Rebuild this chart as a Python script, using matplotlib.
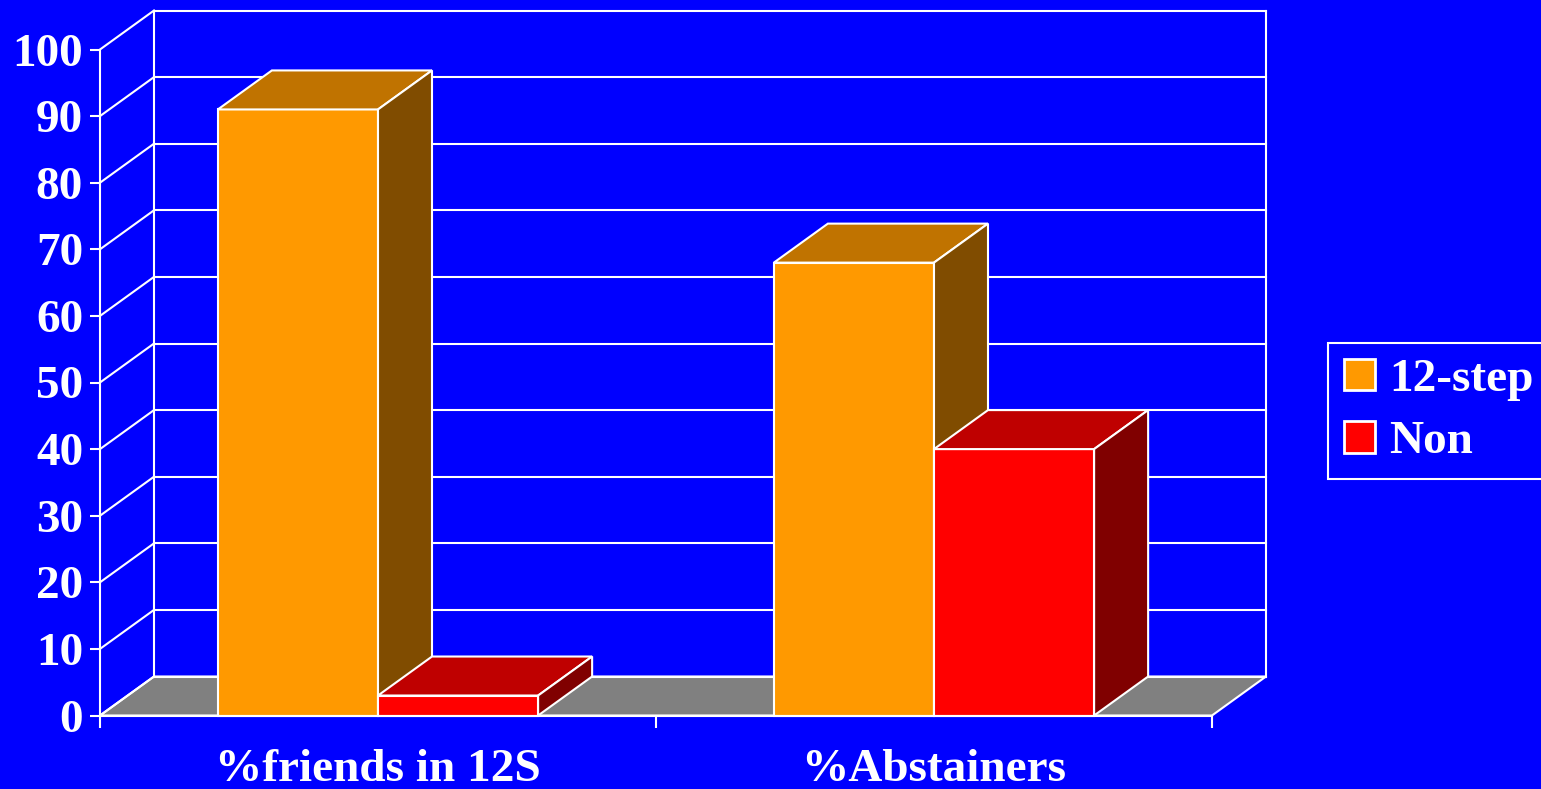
import matplotlib.pyplot as plt
from matplotlib.patches import Polygon, Patch

# data
categories = ['%friends in 12S', '%Abstainers']
series = ['12-step', 'Non']
twelve_step = [91, 68]
non = [3, 40]
yticks = list(range(0, 101, 10))

# colours: front, top, side
front = ['#FF9900', '#FF0000']
top = ['#C07300', '#BF0000']
side = ['#804C00', '#800000']
blue = '#0000FF'

plt.rcParams['font.family'] = ['Liberation Serif', 'DejaVu Serif']
plt.rcParams['font.weight'] = 'bold'

fig = plt.figure(figsize=(15.41, 7.89), dpi=100, facecolor=blue)
ax = fig.add_axes([100 / 1541, 73.5 / 789, 1112 / 1541, 666 / 789])
ax.set_facecolor('none')
ax.set_xlim(0, 2)
ax.set_ylim(0, 100)

# depth of the fake 3d box, in data units
DX = 54 / 556
DY = 39 / 6.66
lw = 1.5

# floor
ax.add_patch(Polygon([(0, 0), (2, 0), (2 + DX, DY), (DX, DY)], closed=True,
                     fc='#808080', ec='white', lw=lw, clip_on=False, zorder=1))

# back wall + side wall grid
for v in yticks:
    ax.plot([DX, 2 + DX], [v + DY, v + DY], color='white', lw=lw, clip_on=False, zorder=2)
    ax.plot([0, DX], [v, v + DY], color='white', lw=lw, clip_on=False, zorder=2)
ax.plot([DX, DX], [DY, 100 + DY], color='white', lw=lw, clip_on=False, zorder=2)
ax.plot([2 + DX, 2 + DX], [DY, 100 + DY], color='white', lw=lw, clip_on=False, zorder=2)

# bars
w = 0.288
z = 3
for i in range(len(categories)):
    for j, vals in enumerate([twelve_step, non]):
        val = vals[i]
        x0 = i + 0.5 + (j - 1) * w
        ax.bar(x0, val, width=w, align='edge', color=front[j], edgecolor='white',
               linewidth=lw, zorder=z, clip_on=False)
        ax.add_patch(Polygon([(x0, val), (x0 + w, val), (x0 + w + DX, val + DY), (x0 + DX, val + DY)],
                             closed=True, fc=top[j], ec='white', lw=lw, clip_on=False, zorder=z + 0.01))
        ax.add_patch(Polygon([(x0 + w, 0), (x0 + w + DX, DY), (x0 + w + DX, val + DY), (x0 + w, val)],
                             closed=True, fc=side[j], ec='white', lw=lw, clip_on=False, zorder=z + 0.01))
        z += 0.1

# axes
for s in ['top', 'right']:
    ax.spines[s].set_visible(False)
for s in ['left', 'bottom']:
    ax.spines[s].set_color('white')
    ax.spines[s].set_linewidth(lw)
    ax.spines[s].set_zorder(10)

ax.set_yticks(yticks)
ax.set_yticklabels([str(v) for v in yticks])
ax.tick_params(axis='y', direction='out', length=7.2, width=lw, colors='white',
               labelsize=34, pad=5)
ax.set_xticks([0, 1, 2])
ax.set_xticklabels(['', '', ''])
ax.set_xticks([0.5, 1.5], minor=True)
ax.set_xticklabels(categories, minor=True)
ax.tick_params(axis='x', which='major', direction='out', length=8.6, width=lw, colors='white')
ax.tick_params(axis='x', which='minor', length=0, colors='white', labelsize=34, pad=24)

# legend
handles = [Patch(fc=front[0], ec='white', lw=2), Patch(fc=front[1], ec='white', lw=2)]
leg = fig.legend(handles, series, loc='upper left', bbox_to_anchor=(1328 / 1541, 1 - 343 / 789),
                 frameon=True, facecolor=blue, edgecolor='white', framealpha=1, fancybox=False,
                 prop={'size': 34, 'weight': 'bold'}, labelcolor='white', borderaxespad=0,
                 borderpad=0.33, handlelength=0.66, handleheight=0.66, handletextpad=0.3,
                 labelspacing=0.42)
leg.get_frame().set_linewidth(lw)

fig.savefig('out.png', dpi=100, facecolor=blue)
